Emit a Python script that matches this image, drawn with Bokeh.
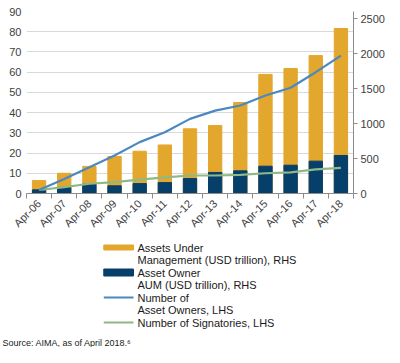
import numpy as np
from bokeh.plotting import figure
from bokeh.models import Range1d, LinearAxis, FixedTicker, Title
from bokeh.layouts import column
from bokeh.embed import file_html
from bokeh.resources import INLINE
from bokeh.core.properties import value

categories = ["Apr-06", "Apr-07", "Apr-08", "Apr-09", "Apr-10", "Apr-11", "Apr-12",
              "Apr-13", "Apr-14", "Apr-15", "Apr-16", "Apr-17", "Apr-18"]
aum_total = [6.4, 10.0, 13.4, 18.3, 20.9, 24.0, 32.0, 33.6, 45.0, 58.9, 61.8, 68.2, 81.6]
owner_aum = [1.8, 3.0, 4.6, 3.8, 4.9, 5.4, 7.4, 10.4, 11.2, 13.5, 14.0, 16.0, 18.8]
num_owners = [50, 208, 376, 543, 734, 875, 1066, 1184, 1257, 1401, 1511, 1733, 1970]
num_signatories = [50, 90, 139, 162, 197, 231, 257, 257, 266, 289, 303, 344, 367]
left_ticks = [0, 10, 20, 30, 40, 50, 60, 70, 80, 90]
right_ticks = [0, 500, 1000, 1500, 2000, 2500]

GOLD = "#E2A72C"
NAVY = "#073F6B"
BLUE = "#4A88C2"
GREEN = "#8FB887"
AXIS = "#8C8C8C"
TXT = "#404040"
FONT = "Liberation Sans"

x = list(np.arange(len(categories)) + 1)
bounds = [i + 0.5 for i in range(len(categories) + 1)]

LB, FW, RB = 26, 327, 31
p = figure(frame_width=FW, frame_height=182, output_backend="svg", toolbar_location=None,
           x_range=Range1d(0.5, len(categories) + 0.5), y_range=Range1d(0, 90),
           min_border_left=LB, min_border_right=RB, min_border_top=11, min_border_bottom=44)
p.extra_y_ranges = {"right": Range1d(0, 2600)}
p.outline_line_color = None
p.background_fill_color = "white"
p.border_fill_color = "white"

p.vbar(x=x, top=aum_total, width=0.53, color=GOLD)
p.vbar(x=x, top=owner_aum, width=0.53, color=NAVY)
p.line(x, num_signatories, y_range_name="right", line_color=GREEN, line_width=2.2)
p.line(x, num_owners, y_range_name="right", line_color=BLUE, line_width=2.2)

# x axis
xa = p.xaxis[0]
xa.ticker = FixedTicker(ticks=x, minor_ticks=bounds)
xa.major_label_overrides = {int(i): c for i, c in zip(x, categories)}
xa.major_label_orientation = np.pi / 4
xa.axis_line_color = AXIS
xa.major_tick_line_color = None
xa.minor_tick_line_color = AXIS
xa.minor_tick_out = 5
xa.minor_tick_in = 0
xa.major_tick_out = 0
xa.major_tick_in = 0
xa.major_label_standoff = 3
xa.major_label_text_font = FONT
xa.major_label_text_font_size = "11px"
xa.major_label_text_color = TXT

# left axis
ya = p.yaxis[0]
ya.ticker = FixedTicker(ticks=left_ticks)
ya.axis_line_color = None
ya.major_tick_line_color = None
ya.minor_tick_line_color = None
ya.major_tick_out = 0
ya.major_label_standoff = 5
ya.major_label_text_font = FONT
ya.major_label_text_font_size = "11px"
ya.major_label_text_color = TXT

# right axis
ra = LinearAxis(y_range_name="right", ticker=FixedTicker(ticks=right_ticks))
ra.axis_line_color = AXIS
ra.major_tick_line_color = AXIS
ra.major_tick_out = 4
ra.major_tick_in = 0
ra.minor_tick_line_color = None
ra.major_label_standoff = 3
ra.major_label_text_font = FONT
ra.major_label_text_font_size = "11px"
ra.major_label_text_color = TXT
p.add_layout(ra, "right")

p.xgrid.grid_line_color = None
p.ygrid.ticker = FixedTicker(ticks=left_ticks)
p.ygrid.grid_line_color = "#D9D9D9"
p.ygrid.grid_line_width = 1

# legend + source figure (its frame is aligned with the chart's frame by the column)
legend_labels = [
    ["Assets Under", "Management (USD trillion), RHS"],
    ["Asset Owner", "AUM (USD trillion), RHS"],
    ["Number of", "Asset Owners, LHS"],
    ["Number of Signatories, LHS"],
]
FH = 98
lg = figure(width=384, frame_height=FH, output_backend="svg", toolbar_location=None,
            x_range=Range1d(LB, LB + FW), y_range=Range1d(FH, 0),
            x_axis_location=None, y_axis_location=None,
            min_border_left=LB, min_border_right=RB,
            min_border_top=0, min_border_bottom=0)
lg.grid.grid_line_color = None
lg.outline_line_color = None

sw_x0, sw_x1, tx = 104, 134, 138
y0, dy = 10, 12.5
row = 0
for k, lab in enumerate(legend_labels):
    yk = y0 + row * dy
    if k == 0:
        lg.quad(left=[sw_x0], right=[sw_x1], top=[yk - 2.5], bottom=[yk + 2.5], color=GOLD)
    elif k == 1:
        lg.quad(left=[sw_x0], right=[sw_x1], top=[yk - 3.5], bottom=[yk + 3.5], color=NAVY)
    elif k == 2:
        lg.line([sw_x0, sw_x1], [yk, yk], line_color=BLUE, line_width=2.2)
    else:
        lg.line([sw_x0, sw_x1], [yk, yk], line_color=GREEN, line_width=2.2)
    for t in lab:
        lg.text(x=[tx], y=[y0 + row * dy], text=[t], text_font=value(FONT),
                text_font_size="11px", text_color="#1A1A1A", text_baseline="middle")
        row += 1

src = Title(text="Source: AIMA, as of April 2018.\u2076", align="left", offset=-(LB - 2),
            standoff=0, text_font=FONT, text_font_size="9px", text_font_style="normal",
            text_color="#1A1A1A")
lg.add_layout(src, "below")

layout = column(p, lg, spacing=0)
open("out.html", "w").write(file_html(layout, INLINE))
